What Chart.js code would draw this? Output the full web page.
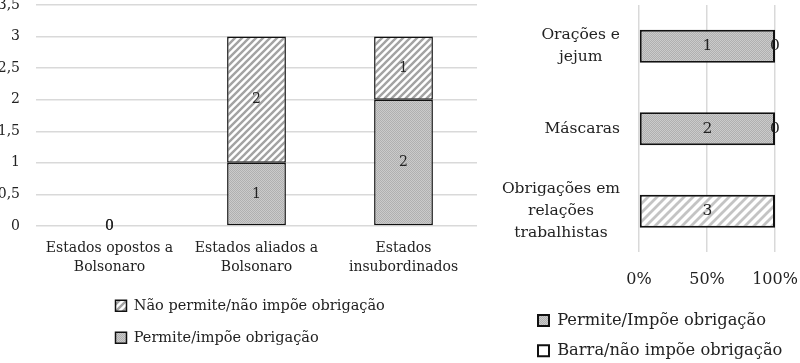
<!DOCTYPE html>
<html>
<head>
<meta charset="utf-8">
<script src="https://cdn.jsdelivr.net/npm/chart.js@4.4.1/dist/chart.umd.min.js"></script>
<style>
  html, body { margin: 0; padding: 0; background: #fff; }
  #wrap { position: relative; width: 800px; height: 363px; }
  #leftChart { position: absolute; left: 0; top: 0; }
  #rightChart { position: absolute; left: 485px; top: 0; }
</style>
</head>
<body>
<div id="wrap">
  <canvas id="leftChart" width="485" height="363"></canvas>
  <canvas id="rightChart" width="315" height="363"></canvas>
</div>
<script>
// left chart data
const stateGroups = [['Estados opostos a', 'Bolsonaro'], ['Estados aliados a', 'Bolsonaro'], ['Estados', 'insubordinados']];
const permiteByGroup = [0, 1, 2];
const naoPermiteByGroup = [0, 2, 1];
const leftMax = 3.5;
const leftStep = 0.5;

// right chart data (counts, shown as 100% stacked)
const measures = [['Orações e', 'jejum'], 'Máscaras', ['Obrigações em', 'relações', 'trabalhistas']];
const permiteByMeasure = [1, 2, 0];
const barraByMeasure = [0, 0, 3];
const pctStep = 50;

const FONT = "'DejaVu Serif', serif";
const TEXT = '#222';
const GRID = '#d9d9d9';

function dotPattern() {
    const c = document.createElement('canvas');
    c.width = 2; c.height = 2;
    const g = c.getContext('2d');
    g.fillStyle = '#cbcbcb'; g.fillRect(0, 0, 2, 2);
    g.fillStyle = '#b0b0b0'; g.fillRect(0, 0, 1, 1); g.fillRect(1, 1, 1, 1);
    return g.createPattern(c, 'repeat');
}

function hatchPattern(stripe, size, lw) {
    const c = document.createElement('canvas');
    c.width = size; c.height = size;
    const g = c.getContext('2d');
    g.fillStyle = '#fff'; g.fillRect(0, 0, size, size);
    g.strokeStyle = stripe; g.lineWidth = lw;
    g.beginPath();
    g.moveTo(-1, size + 1); g.lineTo(size + 1, -1);
    g.moveTo(-size / 2 - 1, size / 2 + 1); g.lineTo(size / 2 + 1, -size / 2 - 1);
    g.moveTo(size / 2 - 1, size * 1.5 + 1); g.lineTo(size * 1.5 + 1, size / 2 - 1);
    g.stroke();
    return g.createPattern(c, 'repeat');
}

const pctOf = (a, b) => a.map((v, i) => (a[i] + b[i]) ? v / (a[i] + b[i]) * 100 : 0);

// writes the count in the middle of each bar segment
const barValueLabels = {
    id: 'barValueLabels',
    afterDatasetsDraw(chart, args, opts) {
        const ctx = chart.ctx;
        ctx.save();
        ctx.font = opts.size + 'px ' + FONT;
        ctx.fillStyle = TEXT;
        ctx.textAlign = 'center';
        ctx.textBaseline = 'middle';
        chart.data.datasets.forEach((ds, i) => {
            const counts = ds.counts || ds.data;
            chart.getDatasetMeta(i).data.forEach((bar, j) => {
                if (counts[j] === 0 && ds.hideZero) return;
                const p = bar.getCenterPoint();
                ctx.fillText(String(counts[j]), p.x, p.y + (opts.dy || 0));
            });
        });
        ctx.restore();
    }
};

// moves the legend block (rows stay left aligned)
const legendOffset = {
    id: 'legendOffset',
    afterLayout(chart, args, opts) {
        const lg = chart.legend;
        lg.left += opts.x; lg.right += opts.x;
        lg.top += opts.y; lg.bottom += opts.y;
    }
};

// y labels: each block right aligned to the axis, its lines centred inside the block
const blockLabels = {
    id: 'blockLabels',
    beforeDraw(chart) {
        const s = chart.scales.y;
        const ctx = chart.ctx;
        const edge = s.right - s.options.ticks.padding;
        ctx.save();
        s.getLabelItems().forEach(it => {
            ctx.font = it.font.string;
            const lines = [].concat(it.label);
            const w = Math.max(...lines.map(l => ctx.measureText(l).width));
            it.options.textAlign = 'center';
            it.options.translation = [edge - w / 2, it.options.translation[1]];
        });
        ctx.restore();
    }
};

new Chart(document.getElementById('leftChart'), {
    type: 'bar',
    data: {
        labels: stateGroups,
        datasets: [
            {
                label: 'Permite/impõe obrigação',
                data: permiteByGroup,
                backgroundColor: dotPattern(),
                borderColor: '#111',
                borderWidth: 1.5,
                borderSkipped: false
            },
            {
                label: 'Não permite/não impõe obrigação',
                data: naoPermiteByGroup,
                backgroundColor: hatchPattern('#a3a3a3', 7, 2.4),
                borderColor: '#111',
                borderWidth: 1.5,
                borderSkipped: false
            }
        ]
    },
    plugins: [barValueLabels, legendOffset],
    options: {
        responsive: false,
        animation: false,
        layout: { padding: { top: 5, right: 8, bottom: 8, left: 0 } },
        datasets: { bar: { categoryPercentage: 1, barPercentage: 0.4 } },
        scales: {
            x: {
                stacked: true,
                grid: { display: false },
                border: { display: false },
                ticks: { color: TEXT, padding: 5, maxRotation: 0, font: { family: FONT, size: 14, lineHeight: 1.35 } },
                afterFit(s) { s.height = 55; s.paddingLeft = 0; s.paddingRight = 0; }
            },
            y: {
                stacked: true,
                min: 0,
                max: leftMax,
                grid: { color: GRID, lineWidth: 1.5, drawTicks: false },
                border: { display: false },
                ticks: {
                    stepSize: leftStep,
                    padding: 16,
                    color: TEXT,
                    font: { family: FONT, size: 14 },
                    callback: v => String(v).replace('.', ',')
                },
                afterFit(s) { s.width = 36; s.paddingTop = 0; s.paddingBottom = 0; }
            }
        },
        plugins: {
            tooltip: { enabled: false },
            legend: {
                position: 'bottom',
                align: 'start',
                reverse: true,
                labels: { boxWidth: 11, boxHeight: 11, padding: 17.5, color: TEXT, font: { family: FONT, size: 14.5 } }
            },
            legendOffset: { x: 98, y: 0 },
            barValueLabels: { size: 14, dy: 0 }
        }
    }
});

const barraLegendFill = '#fff';

new Chart(document.getElementById('rightChart'), {
    type: 'bar',
    data: {
        labels: measures,
        datasets: [
            {
                label: 'Permite/Impõe obrigação',
                data: pctOf(permiteByMeasure, barraByMeasure),
                counts: permiteByMeasure,
                hideZero: true,
                backgroundColor: dotPattern(),
                borderColor: '#111',
                borderWidth: 2,
                borderSkipped: false
            },
            {
                label: 'Barra/não impõe obrigação',
                data: pctOf(barraByMeasure, permiteByMeasure),
                counts: barraByMeasure,
                backgroundColor: hatchPattern('#c4c4c4', 9, 2.8),
                borderColor: '#111',
                borderWidth: 2,
                borderSkipped: false
            }
        ]
    },
    plugins: [barValueLabels, legendOffset, blockLabels],
    options: {
        indexAxis: 'y',
        responsive: false,
        animation: false,
        layout: { padding: { top: 5, right: 25, bottom: 0, left: 0 } },
        datasets: { bar: { categoryPercentage: 1, barPercentage: 0.4 } },
        scales: {
            x: {
                stacked: true,
                min: 0,
                max: 100,
                grid: { color: GRID, lineWidth: 1.5, drawTicks: false },
                border: { display: false },
                ticks: { stepSize: pctStep, padding: 18, color: TEXT, font: { family: FONT, size: 16 }, callback: v => v + '%' },
                afterFit(s) { s.height = 40; s.paddingLeft = 0; s.paddingRight = 0; }
            },
            y: {
                stacked: true,
                grid: { display: false },
                border: { display: false },
                ticks: { crossAlign: 'center', padding: 19, color: TEXT, font: { family: FONT, size: 15.5, lineHeight: 1.4 } },
                afterFit(s) { s.width = 154; s.paddingTop = 0; s.paddingBottom = 0; }
            }
        },
        plugins: {
            tooltip: { enabled: false },
            legend: {
                position: 'bottom',
                align: 'start',
                labels: {
                    boxWidth: 11, boxHeight: 11, padding: 14, color: TEXT,
                    font: { family: FONT, size: 16.3 },
                    generateLabels(chart) {
                        const items = Chart.defaults.plugins.legend.labels.generateLabels(chart);
                        items[1].fillStyle = barraLegendFill;
                        return items;
                    }
                }
            },
            legendOffset: { x: 39, y: 6 },
            barValueLabels: { size: 15.5, dy: 0 }
        }
    }
});
</script>
</body>
</html>
